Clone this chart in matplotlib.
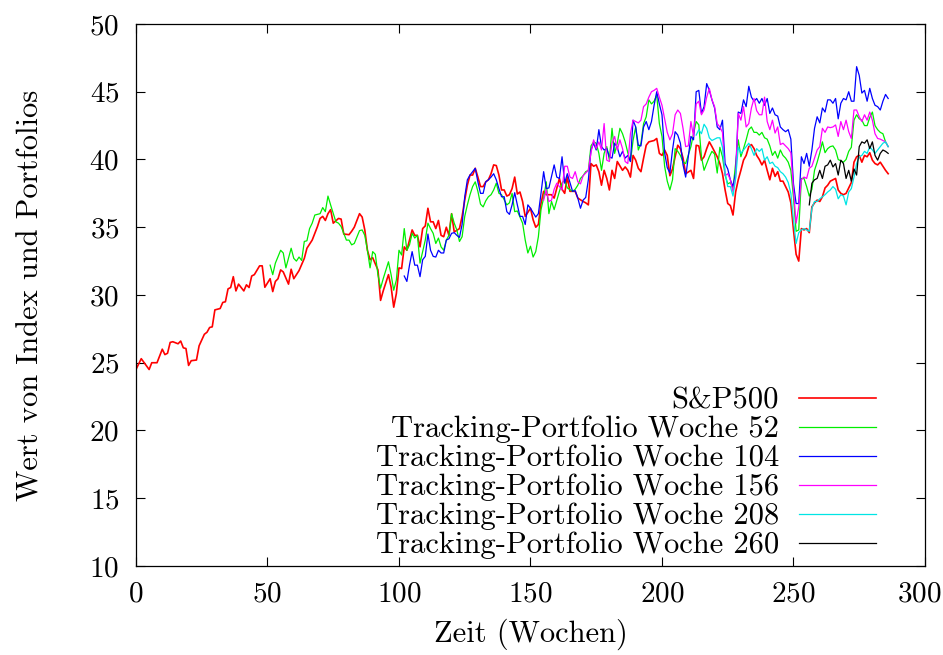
import matplotlib
matplotlib.use("Agg")
import matplotlib.pyplot as plt
from matplotlib.transforms import ScaledTranslation

plt.rcParams["font.family"] = ["cmr10", "DejaVu Serif"]
plt.rcParams["axes.formatter.use_mathtext"] = True
plt.rcParams["mathtext.fontset"] = "cm"

# S&P500, weekly closing values (scaled)
sp_weeks = [0, 2, 5, 6, 8, 10, 11, 12, 13, 14, 16, 17, 18, 19, 20, 21, 23, 24, 26, 27,
            28, 29, 30, 32, 33, 34, 35, 36, 37, 38, 39, 41, 42, 43, 44, 45, 47, 48, 49, 51,
            52, 53, 54, 55, 56, 58, 59, 60, 62, 64, 65, 67, 69, 70, 71, 72, 73, 74, 75, 77,
            78, 79, 81, 82, 83, 85, 86, 87, 88, 89, 90, 92, 93, 94, 96, 97, 98, 99, 100, 101,
            102, 103, 105, 106, 107, 108, 109, 110, 111, 112, 113, 114, 115, 116, 117, 118, 119, 120, 121, 123,
            124, 125, 126, 127, 128, 129, 130, 131, 132, 133, 134, 135, 136, 137, 138, 139, 140, 141, 142, 143,
            144, 145, 146, 147, 148, 149, 150, 151, 152, 153, 154, 155, 156, 158, 159, 161, 162, 163, 164, 165,
            167, 168, 170, 171, 172, 173, 174, 175, 176, 177, 178, 179, 180, 181, 182, 183, 185, 186, 187, 188,
            189, 190, 191, 192, 193, 194, 195, 197, 198, 199, 200, 201, 202, 203, 204, 205, 206, 207, 208, 209,
            211, 212, 213, 214, 215, 216, 217, 218, 219, 221, 222, 223, 224, 225, 226, 227, 228, 229, 230, 231,
            232, 233, 234, 235, 236, 237, 238, 239, 240, 241, 242, 243, 244, 245, 246, 247, 248, 249, 250, 251,
            252, 253, 254, 255, 256, 257, 258, 259, 260, 261, 262, 263, 264, 265, 266, 267, 268, 269, 270, 271,
            272, 273, 274, 275, 276, 277, 278, 279, 280, 281, 282, 283, 284, 285, 286]
sp_values = [24.5, 25.3, 24.5, 25.0, 25.0, 26.0, 25.6, 25.7, 26.5, 26.55, 26.4, 26.6, 26.1, 26.05, 24.8, 25.15, 25.2, 26.25, 27.1, 27.25,
             27.6, 27.65, 28.9, 29.0, 29.45, 29.5, 30.45, 30.55, 31.35, 30.3, 30.8, 30.3, 30.75, 30.55, 31.4, 31.5, 32.15, 32.15, 30.57, 31.2,
             30.25, 31.0, 31.2, 31.85, 31.7, 30.8, 31.9, 31.2, 31.8, 32.7, 33.45, 34.05, 35.05, 35.65, 35.8, 35.5, 36.0, 36.3, 35.3, 35.65,
             35.6, 34.5, 34.45, 34.7, 35.0, 36.0, 35.75, 34.8, 33.3, 32.6, 32.75, 31.85, 29.6, 30.3, 31.5, 30.6, 29.1, 30.1, 32.0, 31.95,
             33.55, 33.3, 34.8, 34.4, 34.4, 33.55, 34.9, 35.1, 36.4, 35.4, 35.4, 34.9, 35.5, 34.4, 34.3, 35.0, 34.4, 36.0, 34.65, 34.9,
             35.8, 37.0, 38.1, 38.85, 38.85, 39.35, 38.7, 38.0, 38.0, 38.35, 38.5, 38.95, 39.6, 39.55, 38.85, 37.75, 37.75, 37.3, 37.4, 37.85,
             38.7, 37.45, 37.6, 36.9, 35.8, 36.1, 36.4, 35.55, 35.0, 35.2, 36.75, 37.65, 37.4, 37.4, 37.15, 38.6, 37.8, 37.5, 38.7, 37.65,
             37.65, 37.15, 36.9, 36.8, 36.65, 39.7, 39.5, 39.6, 39.1, 38.1, 39.2, 38.6, 37.75, 39.2, 38.6, 39.85, 39.2, 39.45, 39.2, 38.7,
             40.3, 39.95, 39.35, 39.1, 40.1, 41.05, 41.3, 41.4, 41.55, 40.45, 40.3, 40.7, 40.3, 38.8, 39.3, 40.2, 41.05, 40.8, 40.1, 38.95,
             39.2, 38.6, 41.05, 41.0, 39.95, 40.2, 40.8, 41.3, 40.95, 40.2, 39.7, 38.95, 37.75, 36.75, 36.6, 35.9, 37.6, 38.5, 39.2, 39.95,
             40.3, 40.95, 41.1, 40.8, 40.3, 40.0, 39.6, 39.95, 39.2, 38.5, 39.35, 38.75, 39.1, 38.4, 38.4, 38.0, 37.6, 36.8, 34.8, 33.0,
             32.5, 34.9, 34.8, 34.9, 34.6, 36.5, 36.8, 37.0, 36.9, 37.25, 37.9, 38.1, 38.4, 38.5, 38.6, 37.75, 37.5, 37.4, 37.5, 37.9,
             38.3, 39.8, 40.2, 40.3, 39.8, 40.3, 40.2, 40.5, 39.95, 39.7, 39.6, 39.8, 39.5, 39.2, 38.95]

# tracking portfolio built in week 52
w52_weeks = [51, 52, 53, 55, 56, 57, 59, 60, 61, 62, 63, 64, 65, 66, 67, 68, 70, 71, 72, 73,
             74, 76, 77, 78, 80, 81, 82, 83, 85, 86, 87, 88, 89, 90, 91, 92, 93, 94, 96, 97,
             98, 99, 100, 101, 102, 103, 104, 105, 106, 107, 108, 109, 110, 111, 112, 113, 114, 115, 116, 117,
             118, 119, 120, 121, 122, 123, 124, 125, 126, 127, 128, 129, 130, 131, 132, 133, 134, 135, 136, 137,
             138, 139, 141, 142, 143, 144, 145, 147, 148, 149, 150, 151, 152, 153, 154, 155, 156, 157, 158, 159,
             161, 162, 163, 164, 166, 167, 168, 169, 170, 171, 172, 173, 174, 175, 176, 177, 178, 179, 180, 181,
             182, 183, 184, 185, 186, 187, 188, 189, 190, 191, 192, 193, 194, 195, 196, 197, 198, 199, 200, 201,
             202, 203, 204, 205, 206, 207, 208, 209, 211, 212, 213, 214, 215, 216, 217, 218, 219, 220, 221, 222,
             223, 224, 225, 226, 227, 228, 229, 230, 231, 232, 233, 234, 235, 236, 237, 238, 239, 240, 241, 242,
             243, 244, 245, 246, 247, 248, 249, 250, 251, 252, 253, 254, 255, 256, 257, 258, 259, 260, 261, 262,
             263, 264, 265, 266, 267, 268, 269, 270, 271, 272, 273, 274, 275, 276, 277, 278, 279, 280, 281, 282,
             283, 284, 285, 286]
w52_values = [32.2, 31.5, 32.35, 33.3, 33.1, 32.0, 33.45, 32.7, 32.5, 32.8, 32.55, 33.95, 34.0, 34.9, 35.3, 35.9, 36.0, 36.45, 36.15, 37.3,
              36.65, 35.4, 35.3, 35.05, 34.05, 34.05, 33.7, 33.8, 34.75, 34.8, 34.4, 33.3, 32.0, 33.2, 33.0, 31.5, 30.5, 31.2, 32.45, 31.5,
              30.35, 31.1, 33.3, 32.95, 34.9, 33.3, 33.7, 34.55, 34.2, 34.4, 32.35, 33.2, 34.05, 35.3, 34.9, 34.55, 33.8, 34.2, 33.55, 33.3,
              34.05, 34.4, 36.0, 35.3, 34.8, 33.95, 34.3, 35.8, 36.65, 37.4, 38.0, 38.35, 37.65, 36.7, 36.5, 36.95, 37.25, 37.4, 37.75, 38.25,
              37.5, 37.4, 36.65, 36.8, 37.5, 36.15, 36.2, 35.3, 34.05, 33.1, 33.6, 32.8, 33.2, 34.3, 36.3, 37.15, 38.35, 36.0, 36.9, 36.3,
              37.65, 38.25, 38.5, 37.9, 37.65, 37.8, 38.1, 38.6, 38.8, 39.1, 39.2, 41.0, 41.3, 41.2, 40.45, 39.2, 40.45, 40.95, 39.95, 42.3,
              40.45, 41.2, 42.3, 41.9, 41.3, 40.5, 39.85, 41.4, 42.4, 40.7, 41.2, 42.65, 43.15, 44.4, 44.1, 44.3, 44.75, 42.65, 41.7, 39.5,
              38.4, 37.75, 38.5, 40.8, 40.6, 40.3, 39.8, 39.7, 40.95, 41.9, 42.8, 42.55, 40.2, 39.2, 39.7, 40.2, 40.6, 40.4, 39.0, 40.9,
              40.2, 38.85, 38.2, 38.3, 37.85, 39.7, 41.45, 40.2, 40.8, 41.45, 42.2, 42.4, 42.0, 42.0, 41.8, 42.0, 41.6, 41.5, 41.0, 40.3,
              40.6, 40.1, 40.7, 40.3, 40.1, 39.8, 39.2, 37.2, 34.7, 34.8, 38.6, 38.6, 38.0, 37.3, 37.8, 39.2, 39.8, 40.5, 41.3, 40.5,
              40.8, 40.95, 41.0, 40.7, 40.0, 39.9, 39.8, 40.0, 40.6, 40.9, 42.9, 43.3, 43.0, 42.9, 42.5, 42.5, 43.1, 43.5, 42.5, 42.2,
              42.0, 41.9, 41.3, 40.95]

# tracking portfolio built in week 104
w104_weeks = [102, 103, 104, 105, 106, 107, 108, 109, 110, 111, 112, 113, 114, 115, 116, 117, 118, 119, 120, 121,
              122, 123, 124, 125, 126, 127, 129, 130, 131, 132, 133, 134, 135, 136, 137, 138, 139, 140, 141, 142,
              143, 144, 145, 146, 147, 148, 149, 150, 152, 153, 154, 155, 156, 157, 159, 160, 161, 162, 163, 164,
              166, 167, 168, 169, 170, 171, 172, 173, 174, 175, 176, 177, 178, 179, 180, 181, 182, 183, 184, 185,
              186, 187, 188, 189, 190, 191, 192, 193, 194, 195, 196, 197, 198, 199, 200, 201, 202, 203, 204, 205,
              206, 207, 208, 209, 210, 211, 212, 213, 214, 215, 216, 217, 218, 219, 220, 221, 222, 223, 224, 225,
              226, 227, 228, 229, 230, 231, 232, 233, 234, 235, 236, 237, 238, 239, 240, 241, 242, 243, 244, 245,
              246, 247, 248, 249, 250, 251, 252, 253, 254, 255, 256, 257, 258, 259, 260, 261, 262, 263, 264, 265,
              266, 267, 268, 269, 270, 271, 272, 273, 274, 275, 276, 277, 278, 279, 280, 281, 282, 283, 284, 285,
              286]
w104_values = [31.4, 31.0, 32.2, 33.2, 32.2, 32.2, 31.35, 32.6, 32.85, 34.5, 33.3, 32.85, 32.8, 33.3, 33.1, 33.1, 34.05, 34.15, 34.55, 34.6,
               34.4, 34.25, 35.2, 37.25, 38.5, 38.85, 39.35, 38.35, 37.5, 37.5, 38.35, 38.5, 38.7, 38.95, 38.5, 37.85, 37.25, 37.25, 36.15, 35.95,
               36.65, 37.55, 36.65, 35.8, 35.8, 35.2, 36.65, 36.4, 35.75, 36.0, 37.5, 39.1, 37.85, 37.9, 39.6, 38.7, 38.6, 40.2, 38.25, 38.95,
               37.65, 37.7, 37.15, 36.4, 37.0, 37.2, 38.5, 40.7, 41.2, 40.7, 42.2, 40.95, 40.7, 40.8, 40.2, 40.1, 41.2, 40.9, 40.2, 40.6,
               40.1, 40.3, 39.85, 42.9, 42.4, 41.05, 41.0, 42.4, 42.8, 42.2, 42.8, 44.0, 45.0, 44.1, 43.3, 40.5, 39.4, 39.0, 40.7, 42.05,
               41.8, 41.2, 39.6, 38.7, 40.2, 41.7, 41.45, 45.0, 45.1, 43.4, 43.9, 45.6, 45.1, 44.4, 43.8, 42.4, 42.2, 42.9, 39.7, 39.3,
               38.5, 38.0, 39.0, 43.5, 43.4, 44.4, 43.9, 45.4, 44.6, 44.3, 44.5, 44.15, 44.5, 44.0, 44.5, 43.4, 43.8, 43.3, 43.2, 42.4,
               42.2, 42.05, 42.2, 41.5, 38.2, 36.75, 36.75, 40.2, 39.7, 40.45, 39.5, 40.7, 42.3, 43.15, 42.7, 43.8, 43.5, 44.4, 44.4, 44.15,
               44.5, 43.0, 44.15, 44.5, 44.4, 45.0, 44.3, 44.3, 46.85, 46.2, 44.9, 45.1, 44.3, 45.25, 44.5, 44.0, 43.9, 43.65, 44.3, 44.8,
               44.5]

# tracking portfolio built in week 156
w156_weeks = [155, 156, 157, 158, 159, 160, 161, 162, 163, 164, 165, 166, 167, 168, 169, 170, 171, 172, 173, 174,
              175, 176, 177, 178, 179, 180, 181, 182, 183, 184, 185, 186, 187, 188, 189, 190, 191, 192, 193, 194,
              195, 196, 197, 198, 199, 200, 201, 202, 203, 204, 205, 206, 207, 208, 209, 210, 211, 212, 213, 214,
              215, 216, 217, 218, 219, 220, 221, 222, 223, 224, 225, 226, 227, 228, 229, 230, 231, 232, 233, 234,
              235, 236, 237, 238, 239, 240, 241, 242, 243, 244, 245, 246, 247, 248, 249, 250, 251, 252, 253, 254,
              255, 256, 257, 258, 259, 260, 261, 262, 263, 264, 265, 266, 267, 268, 269, 270, 271, 272, 273, 274,
              275, 276, 277, 278, 279, 280, 281, 282, 283, 284, 285, 286]
w156_values = [37.0, 37.75, 36.9, 37.0, 37.8, 38.25, 38.0, 37.75, 39.5, 39.5, 38.7, 38.6, 39.1, 38.35, 38.2, 38.8, 39.0, 39.2, 40.5, 41.45,
               40.8, 41.3, 40.7, 42.65, 39.95, 39.85, 41.2, 41.7, 40.7, 41.45, 40.8, 39.85, 39.7, 41.9, 42.9, 42.8, 42.7, 42.9, 43.9, 44.1,
               44.6, 45.0, 45.1, 45.25, 44.6, 44.0, 43.0, 42.0, 41.45, 41.9, 43.3, 43.65, 43.4, 42.3, 40.95, 41.0, 42.8, 41.7, 44.1, 44.3,
               43.3, 43.65, 44.6, 45.25, 44.4, 43.9, 42.65, 42.4, 42.0, 38.8, 38.95, 38.5, 37.6, 38.7, 43.4, 42.9, 43.9, 42.4, 42.65, 43.8,
               44.5, 43.6, 43.3, 43.3, 44.6, 42.8, 42.2, 42.9, 41.95, 42.4, 41.1, 41.2, 41.0, 40.8, 40.5, 37.75, 35.3, 36.5, 38.5, 38.7,
               38.6, 39.35, 39.5, 40.1, 40.7, 40.95, 42.3, 42.0, 42.4, 42.35, 42.4, 42.55, 41.7, 42.8, 42.2, 42.9, 42.05, 41.55, 43.65, 43.65,
               43.15, 42.8, 43.3, 42.9, 43.5, 42.9, 41.9, 41.55, 41.5, 41.4, 41.3, 40.95]

# tracking portfolio built in week 208
w208_weeks = [213, 214, 215, 216, 217, 218, 219, 220, 221, 222, 223, 224, 225, 226, 227, 228, 229, 230, 231, 232,
              233, 234, 235, 236, 237, 238, 239, 240, 241, 242, 243, 244, 245, 246, 247, 248, 249, 250, 251, 252,
              253, 254, 255, 256, 257, 258, 259, 260, 261, 262, 263, 264, 265, 266, 267, 268, 269, 270, 271, 272,
              273, 274, 275, 276, 277, 278, 279, 280, 281, 282, 283, 284, 285, 286]
w208_values = [41.8, 42.2, 41.9, 42.6, 42.3, 41.6, 41.4, 41.5, 41.6, 41.6, 40.9, 39.0, 38.0, 38.0, 37.3, 38.6, 40.9, 40.45, 40.7, 40.95,
               41.2, 40.8, 40.3, 40.8, 40.6, 40.8, 39.95, 40.2, 39.7, 39.8, 39.5, 39.4, 39.1, 38.95, 38.7, 38.3, 37.5, 35.5, 33.8, 34.6,
               34.8, 34.9, 34.8, 34.7, 36.4, 36.9, 36.9, 37.1, 37.25, 37.4, 37.6, 37.75, 38.0, 37.8, 37.1, 37.4, 37.3, 36.65, 37.6, 37.85,
               38.7, 39.7, 40.2, 40.3, 40.6, 40.45, 40.95, 40.7, 40.45, 40.7, 40.95, 41.2, 41.3, 40.95]

# tracking portfolio built in week 260
w260_weeks = [256, 257, 258, 259, 260, 261, 262, 263, 264, 265, 266, 267, 268, 269, 270, 271, 272, 273, 274, 275,
              276, 277, 278, 279, 280, 281, 282, 283, 284, 285, 286]
w260_values = [36.65, 38.25, 38.5, 38.6, 39.2, 38.6, 39.5, 39.6, 39.95, 39.45, 39.7, 38.85, 39.95, 39.7, 38.6, 39.2, 38.4, 39.3, 38.85, 40.95,
               41.3, 41.2, 41.45, 40.8, 41.3, 40.3, 39.95, 40.45, 40.7, 40.6, 40.45]

series = [
    (sp_weeks, sp_values, "S&P500", "#ff0000", 1.2),
    (w52_weeks, w52_values, "Tracking-Portfolio Woche 52", "#00ee00", 0.9),
    (w104_weeks, w104_values, "Tracking-Portfolio Woche 104", "#0000ff", 0.9),
    (w156_weeks, w156_values, "Tracking-Portfolio Woche 156", "#ff00ff", 0.9),
    (w208_weeks, w208_values, "Tracking-Portfolio Woche 208", "#00e5e5", 0.9),
    (w260_weeks, w260_values, "Tracking-Portfolio Woche 260", "#000000", 0.9),
]

FS = 22

fig = plt.figure(figsize=(9.43, 6.55), dpi=100)
ax = fig.add_axes([0.1442, 0.1359, 0.8367, 0.8275])

for weeks, values, label, color, lw in series:
    ax.plot(weeks, values, color=color, linewidth=lw, label=label)

ax.set_xlim(0, 300)
ax.set_ylim(10, 50)
ax.set_xticks(range(0, 301, 50))
ax.set_yticks(range(10, 51, 5))
ax.tick_params(direction="in", length=6.5, width=0.8, labelsize=21,
               top=True, right=True)
ax.tick_params(axis="x", pad=11)
ax.tick_params(axis="y", pad=12)
for spine in ax.spines.values():
    spine.set_linewidth(0.9)

# keep the last x tick label inside the canvas
last = ax.get_xticklabels()[-1]
last.set_transform(last.get_transform() + ScaledTranslation(-4 / 72, 0, fig.dpi_scale_trans))

ax.set_xlabel("Zeit (Wochen)", fontsize=FS, labelpad=8)
ax.set_ylabel("Wert von Index und Portfolios", fontsize=FS, labelpad=32)

leg = ax.legend(loc="lower right", bbox_to_anchor=(0.938, 0.012), frameon=False,
                markerfirst=False, fontsize=FS, handlelength=2.52,
                handletextpad=0.65, labelspacing=0.05, borderaxespad=0.0,
                borderpad=0.0)

fig.savefig("out.png", dpi=100)
